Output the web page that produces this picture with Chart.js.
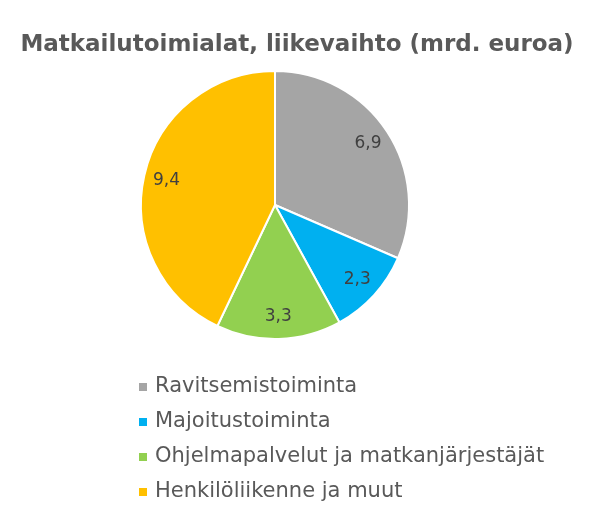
<!DOCTYPE html>
<html>
<head>
<meta charset="utf-8">
<script src="https://cdn.jsdelivr.net/npm/chart.js@4/dist/chart.umd.min.js"></script>
<style>
  html, body { margin: 0; padding: 0; background: #fff; }
  #wrap { width: 590px; height: 519px; position: relative; }
</style>
</head>
<body>
<div id="wrap"><canvas id="pie"></canvas></div>
<script>
const chartTitle = 'Matkailutoimialat, liikevaihto (mrd. euroa)';
const categories = ['Ravitsemistoiminta', 'Majoitustoiminta', 'Ohjelmapalvelut ja matkanjärjestäjät', 'Henkilöliikenne ja muut'];
const values = [6.9, 2.3, 3.3, 9.4];
const colors = ['#A5A5A5', '#00B0F0', '#92D050', '#FFC000'];

const fontFamily = '"DejaVu Sans", sans-serif';

// Title, slice labels and the vertical legend drawn on the canvas
const decorPlugin = {
    id: 'decor',
    afterDraw(chart) {
        const ctx = chart.ctx;
        ctx.save();

        // Title
        ctx.fillStyle = '#595959';
        ctx.font = 'bold 23px ' + fontFamily;
        ctx.textAlign = 'center';
        ctx.textBaseline = 'middle';
        ctx.fillText(chartTitle, 297, 45);

        // Value labels inside slices
        const meta = chart.getDatasetMeta(0);
        ctx.font = '17px ' + fontFamily;
        ctx.fillStyle = '#404040';
        meta.data.forEach((arc, i) => {
            const mid = (arc.startAngle + arc.endAngle) / 2;
            const r = arc.outerRadius * 0.83;
            const x = arc.x + Math.cos(mid) * r;
            const y = arc.y + Math.sin(mid) * r;
            ctx.fillText(values[i].toFixed(1).replace('.', ','), x, y);
        });

        // Legend
        ctx.font = '21px ' + fontFamily;
        ctx.textAlign = 'left';
        categories.forEach((name, i) => {
            const y = 387 + i * 35;
            ctx.fillStyle = colors[i];
            ctx.fillRect(139, y - 4, 8, 8);
            ctx.fillStyle = '#595959';
            ctx.fillText(name, 155, y);
        });

        ctx.restore();
    }
};

new Chart(document.getElementById('pie'), {
    type: 'pie',
    data: {
        labels: categories,
        datasets: [{
            data: values,
            backgroundColor: colors,
            borderColor: '#fff',
            borderWidth: 2
        }]
    },
    options: {
        responsive: true,
        maintainAspectRatio: false,
        animation: false,
        layout: {
            padding: { left: 140, top: 70, right: 180, bottom: 179 }
        },
        plugins: {
            legend: { display: false },
            title: { display: false },
            tooltip: { enabled: false }
        }
    },
    plugins: [decorPlugin]
});
</script>
</body>
</html>
